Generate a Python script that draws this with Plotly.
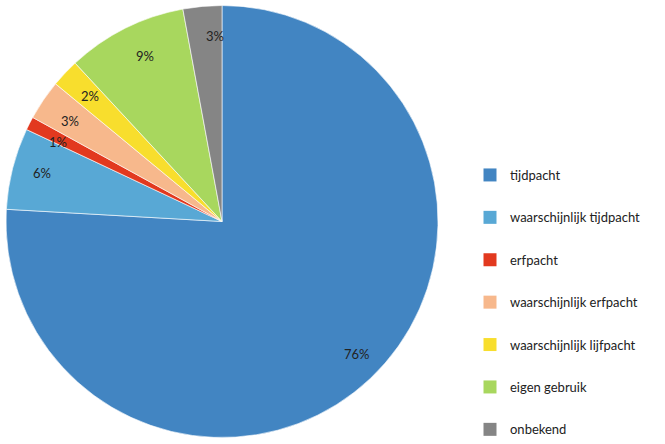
import numpy as np
import plotly.graph_objects as go

categories = ["tijdpacht", "waarschijnlijk tijdpacht", "erfpacht", "waarschijnlijk erfpacht",
              "waarschijnlijk lijfpacht", "eigen gebruik", "onbekend"]
values = [75.9, 6.1, 1.0, 3.0, 2.1, 9.0, 2.9]
colors = ["#4285C2", "#58A8D5", "#E2391F", "#F7B88C", "#F8DE2D", "#A8D75E", "#858585"]

W, H = 665, 444
FONT = "Lato, 'Open Sans', sans-serif"
dom_x = [6 / W, 438 / W]
dom_y = [6 / H, 439 / H]

fig = go.Figure()
fig.add_trace(go.Pie(
    labels=categories, values=values, sort=False, direction="clockwise", rotation=0,
    marker=dict(colors=colors, line=dict(color="white", width=0.6)),
    textinfo="none", hoverinfo="label+percent", showlegend=False,
    domain=dict(x=dom_x, y=dom_y),
))

# percentage labels placed from the data (mid-angle of each slice)
cx = (dom_x[0] + dom_x[1]) / 2 * W
cy = (dom_y[0] + dom_y[1]) / 2 * H
R = min((dom_x[1] - dom_x[0]) * W, (dom_y[1] - dom_y[0]) * H) / 2
vals = np.array(values)
frac = vals / vals.sum()
cum = np.cumsum(frac) - frac / 2
for f, c in zip(frac, cum):
    th = 2 * np.pi * c
    px = cx + 0.91 * R * np.sin(th)
    py = cy + 0.91 * R * np.cos(th)
    fig.add_annotation(x=px / W, y=py / H, xref="paper", yref="paper",
                       text=f"{round(f * 100):.0f}%", showarrow=False,
                       font=dict(family=FONT, size=13, color="#222222"))

# legend entries
for name, col in zip(categories, colors):
    fig.add_trace(go.Scatter(x=[None], y=[None], mode="markers", name=name,
                             legendgroup=name,
                             marker=dict(symbol="square", size=13, color=col)))

fig.update_layout(
    width=W, height=H, margin=dict(l=0, r=0, t=0, b=0, autoexpand=False),
    paper_bgcolor="white", plot_bgcolor="white",
    xaxis=dict(visible=False), yaxis=dict(visible=False),
    legend=dict(x=470 / W, xanchor="left", y=1 - 160 / H, yanchor="top",
                font=dict(family=FONT, size=13, color="#222222"),
                tracegroupgap=22.5, itemclick=False, itemdoubleclick=False),
    font=dict(family=FONT),
)
fig.write_html("out.html", config={"displayModeBar": False},
               post_script="document.body.style.margin='0';")
